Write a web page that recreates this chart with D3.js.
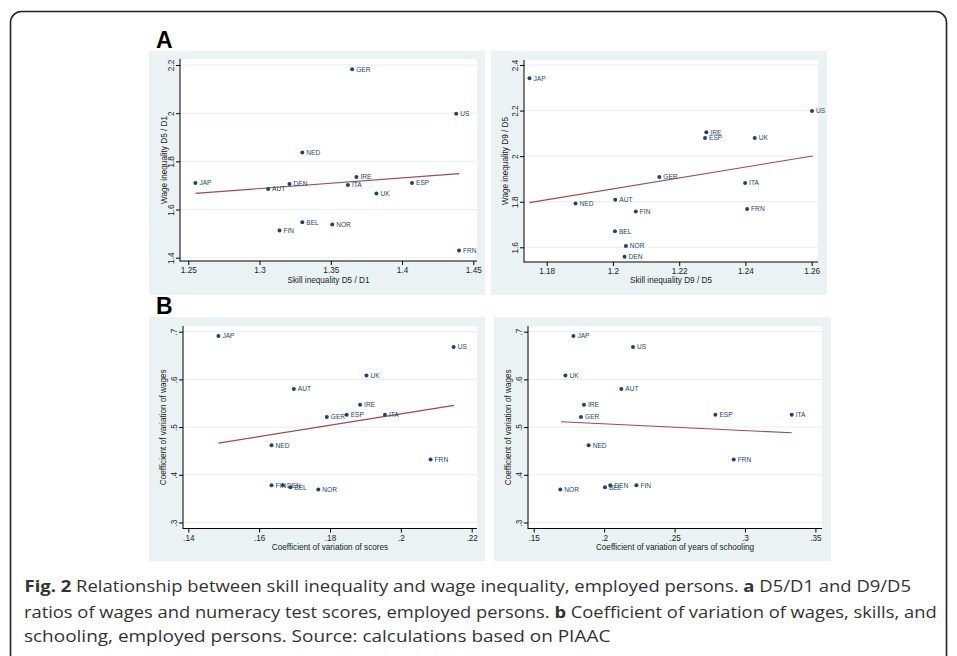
<!DOCTYPE html>
<html><head><meta charset="utf-8">
<script src="https://cdn.jsdelivr.net/npm/d3@7"></script>
<style>body{margin:0;background:#fff}svg{display:block}</style>
</head><body>
<svg id="c" width="957" height="656"></svg>
<script>
// ---------- DATA ----------
const countries = ["JAP","AUT","DEN","NED","GER","IRE","ITA","UK","ESP","US","FRN","BEL","NOR","FIN"];

// Panel A left: skill D5/D1 vs wage D5/D1
const skillD5D1 = [1.255,1.306,1.321,1.330,1.365,1.368,1.362,1.382,1.407,1.438,1.440,1.330,1.351,1.314];
const wageD5D1  = [1.710,1.685,1.706,1.837,2.182,1.735,1.702,1.667,1.710,1.998,1.430,1.547,1.538,1.513];
// Panel A right: skill D9/D5 vs wage D9/D5
const skillD9D5 = [1.1748,1.2007,1.2035,1.1887,1.2140,1.2282,1.2399,1.2428,1.2278,1.2601,1.2405,1.2006,1.2039,1.2069];
const wageD9D5  = [2.342,1.809,1.558,1.792,1.909,2.105,1.882,2.080,2.080,2.198,1.768,1.670,1.606,1.757];
// Panel B: coefficients of variation
const cvScores    = [.1485,.1698,.1667,.1635,.1791,.1885,.1955,.1903,.1847,.2149,.2084,.1688,.1767,.1635];
const cvSchooling = [.1782,.2122,.2044,.1890,.1836,.1857,.3332,.1725,.2790,.2205,.2920,.2006,.1689,.2229];
const cvWages     = [.691,.580,.378,.462,.521,.547,.526,.608,.526,.668,.432,.374,.369,.378];

// Fitted lines (end points)
const fitA1X = [1.2551,1.4401], fitA1Y = [1.667,1.749];
const fitA2X = [1.1748,1.2603], fitA2Y = [1.796,2.001];
const fitB1X = [.1485,.2150],   fitB1Y = [.4664,.5455];
const fitB2X = [.1694,.3332],   fitB2Y = [.5112,.4881];

// Ticks
const ticksA1X = [1.25,1.3,1.35,1.4,1.45], labA1X = ["1.25","1.3","1.35","1.4","1.45"];
const ticksA1Y = [1.4,1.6,1.8,2,2.2],      labA1Y = ["1.4","1.6","1.8","2","2.2"];
const ticksA2X = [1.18,1.2,1.22,1.24,1.26], labA2X = ["1.18","1.2","1.22","1.24","1.26"];
const ticksA2Y = [1.6,1.8,2,2.2,2.4],      labA2Y = ["1.6","1.8","2","2.2","2.4"];
const ticksB1X = [.14,.16,.18,.2,.22],     labB1X = [".14",".16",".18",".2",".22"];
const ticksB2X = [.15,.2,.25,.3,.35],      labB2X = [".15",".2",".25",".3",".35"];
const ticksBY  = [.3,.4,.5,.6,.7],         labBY  = [".3",".4",".5",".6",".7"];

const titles = {
  a1x:"Skill inequality D5 / D1", a1y:"Wage inequality D5 / D1",
  a2x:"Skill inequality D9 / D5", a2y:"Wage inequality D9 / D5",
  b1x:"Coefficient of variation of scores", b1y:"Coefficient of variation of wages",
  b2x:"Coefficient of variation of years of schooling", b2y:"Coefficient of variation of wages"
};

const captionLines = [
  [["Fig. 2",true],[" Relationship between skill inequality and wage inequality, employed persons. ",false],["a",true],[" D5/D1 and D9/D5",false]],
  [["ratios of wages and numeracy test scores, employed persons. ",false],["b",true],[" Coefficient of variation of wages, skills, and",false]],
  [["schooling, employed persons. Source: calculations based on PIAAC",false]]
];

// ---------- DRAW ----------
const svg = d3.select("#c");
const FONT = "'Liberation Sans', Arial, sans-serif";
const NAVY = "#1a476f", FITC = "#93363c", BG = "#eaf2f3";

svg.append("rect").attr("x",10.5).attr("y",11.5).attr("width",936).attr("height",720)
  .attr("rx",11).attr("fill","none").attr("stroke","#231f20").attr("stroke-width",1.6);

function panel(p){
  const g = svg.append("g");
  g.append("rect").attr("x",p.bg[0]).attr("y",p.bg[1]).attr("width",p.bg[2]).attr("height",p.bg[3]).attr("fill",BG);
  g.append("rect").attr("x",p.plot[0]).attr("y",p.plot[2]).attr("width",p.plot[1]-p.plot[0]).attr("height",p.plot[3]-p.plot[2]).attr("fill","#fff");
  const x = d3.scaleLinear().domain([p.xt[0],p.xt[p.xt.length-1]]).range(p.xr);
  const y = d3.scaleLinear().domain([p.yt[0],p.yt[p.yt.length-1]]).range(p.yr);
  g.selectAll(".grid").data(p.yt).enter().append("line")
    .attr("x1",p.plot[0]).attr("x2",p.plot[1]).attr("y1",d=>y(d)).attr("y2",d=>y(d))
    .attr("stroke","#e6eeef").attr("stroke-width",1);
  const ax = g.append("g").attr("transform",`translate(0,${p.plot[3]})`)
    .call(d3.axisBottom(x).tickValues(p.xt).tickFormat((d,i)=>p.xl[i]).tickSize(4).tickPadding(2.5));
  const ay = g.append("g").attr("transform",`translate(${p.plot[0]},0)`)
    .call(d3.axisLeft(y).tickValues(p.yt).tickFormat((d,i)=>p.yl[i]).tickSize(4));
  [ax,ay].forEach(a=>{a.select(".domain").remove();
    a.selectAll("line").attr("stroke","#000");
    a.selectAll("text").attr("font-family",FONT).attr("font-size",8.2).attr("fill","#222");});
  ay.selectAll("text").attr("transform","rotate(-90)").attr("x",0).attr("y",-6).attr("dy",0)
    .attr("text-anchor","middle");
  g.append("line").attr("x1",p.plot[0]).attr("x2",p.plot[0]).attr("y1",p.plot[2]).attr("y2",p.plot[3]+0.5).attr("stroke","#000");
  g.append("line").attr("x1",p.plot[0]).attr("x2",p.plot[1]).attr("y1",p.plot[3]).attr("y2",p.plot[3]).attr("stroke","#000");
  g.append("text").attr("x",(p.plot[0]+p.plot[1])/2).attr("y",p.xty).attr("text-anchor","middle")
    .attr("font-family",FONT).attr("font-size",8.2).attr("fill","#222").text(p.xtitle);
  g.append("text").attr("transform",`translate(${p.ytx},${(p.plot[2]+p.plot[3])/2}) rotate(-90)`)
    .attr("text-anchor","middle").attr("font-family",FONT).attr("font-size",8.2).attr("fill","#222").text(p.ytitle);
  g.append("line").attr("x1",x(p.fx[0])).attr("y1",y(p.fy[0])).attr("x2",x(p.fx[1])).attr("y2",y(p.fy[1]))
    .attr("stroke",FITC).attr("stroke-width",1.1).attr("stroke-opacity",0.9);
  const pts = countries.map((c,i)=>({c, x:p.xs[i], y:p.ys[i]}));
  const pg = g.selectAll(".pt").data(pts).enter().append("g");
  pg.append("circle").attr("cx",d=>x(d.x)).attr("cy",d=>y(d.y)).attr("r",2).attr("fill",NAVY);
  pg.append("text").attr("x",d=>x(d.x)+4).attr("y",d=>y(d.y)+2.4).attr("font-family",FONT)
    .attr("font-size",6.6).attr("fill",NAVY).text(d=>d.c);
}

panel({bg:[149,51,336,244], plot:[180,477,59,261], xr:[188.3,473.3], yr:[257.7,65],
  xt:ticksA1X, xl:labA1X, yt:ticksA1Y, yl:labA1Y, xs:skillD5D1, ys:wageD5D1, fx:fitA1X, fy:fitA1Y,
  xtitle:titles.a1x, ytitle:titles.a1y, xty:283, ytx:167});
panel({bg:[491,51,336,244], plot:[524,818,60,262], xr:[546.7,811.7], yr:[247.3,65],
  xt:ticksA2X, xl:labA2X, yt:ticksA2Y, yl:labA2Y, xs:skillD9D5, ys:wageD9D5, fx:fitA2X, fy:fitA2Y,
  xtitle:titles.a2x, ytitle:titles.a2y, xty:283, ytx:508});
panel({bg:[149,317,336,244], plot:[183,477,326,528.5], xr:[188.3,471.7], yr:[522.5,331.7],
  xt:ticksB1X, xl:labB1X, yt:ticksBY, yl:labBY, xs:cvScores, ys:cvWages, fx:fitB1X, fy:fitB1Y,
  xtitle:titles.b1x, ytitle:titles.b1y, xty:550, ytx:166});
panel({bg:[494,317,337,244], plot:[528,822,326,528.5], xr:[533.7,815.4], yr:[522.5,331.7],
  xt:ticksB2X, xl:labB2X, yt:ticksBY, yl:labBY, xs:cvSchooling, ys:cvWages, fx:fitB2X, fy:fitB2Y,
  xtitle:titles.b2x, ytitle:titles.b2y, xty:550, ytx:511});

svg.append("text").attr("x",156).attr("y",48).attr("font-family",FONT).attr("font-weight","bold")
  .attr("font-size",23).attr("fill","#000").text("A");
svg.append("text").attr("x",156).attr("y",314).attr("font-family",FONT).attr("font-weight","bold")
  .attr("font-size",23).attr("fill","#000").text("B");

// caption: Open Sans, horizontally scaled to the reference line widths
const CAPF = "'Open Sans','Noto Sans',sans-serif";
const capLayout = [{x:24.5, y:591.7, w:887},{x:24, y:617.7, w:913},{x:24, y:642, w:587}];
captionLines.forEach((parts,i)=>{
  const L = capLayout[i];
  const t = svg.append("text").attr("x",0).attr("y",0).attr("font-family",CAPF).attr("font-size",16.5)
    .attr("fill","#333").attr("xml:space","preserve");
  parts.forEach(p=>t.append("tspan").attr("font-weight",p[1]?"bold":"normal").text(p[0]));
  const w = t.node().getComputedTextLength();
  const s = L.w / w;
  t.attr("transform",`translate(${L.x},${L.y}) scale(${s},1)`);
});
</script>
</body></html>
